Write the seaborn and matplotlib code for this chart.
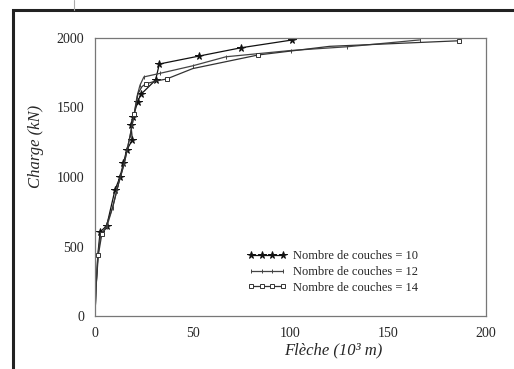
import matplotlib
matplotlib.use('Agg')
import matplotlib.pyplot as plt
from matplotlib.lines import Line2D
from matplotlib.patches import Rectangle
from matplotlib.ticker import MultipleLocator
import pandas as pd
import seaborn as sns

# Flèche (10^3 m) / Charge (kN)
x_10 = [0, 0.5, 1.5, 2.6, 6, 10.2, 12.8, 14.5, 16.2, 19.1, 18.4, 19.6, 21.8, 23.5, 31, 32.9, 53.2, 74.8, 101]
y_10 = [0, 200, 450, 604, 650, 906, 1000, 1098, 1194, 1266, 1374, 1434, 1542, 1595, 1698, 1813, 1870, 1930, 1986]

x_12 = [0, 0.5, 1.5, 3, 6, 9, 12, 15, 18, 20, 21.5, 23, 25, 33, 50, 67, 100, 129, 166]
y_12 = [0, 200, 440, 590, 640, 780, 950, 1100, 1300, 1450, 1580, 1660, 1720, 1745, 1800, 1865, 1910, 1937, 1986]

x_14 = [0, 0.5, 1.7, 3.5, 5, 9, 12, 15, 18, 20, 22, 24, 26, 31, 36.6, 50, 83.5, 120, 186]
y_14 = [0, 200, 439, 590, 620, 780, 950, 1100, 1300, 1450, 1600, 1650, 1670, 1690, 1705, 1780, 1878, 1940, 1980]

LABELS = ['Nombre de couches = 10', 'Nombre de couches = 12', 'Nombre de couches = 14']

sns.set_style('white')
plt.rcParams['font.family'] = ['Liberation Serif', 'DejaVu Serif']

fig = plt.figure(figsize=(5.14, 3.69), dpi=100)
ax = fig.add_axes([95 / 514, 1 - 316 / 369, 391 / 514, 278 / 369])

# (x, y, label, marker, markersize, markerfacecolor, line color, markevery)
series = [
    (x_10, y_10, LABELS[0], '*', 5.5, '#111111', '#111111', list(range(3, len(x_10)))),
    (x_12, y_12, LABELS[1], '|', 2.5, '#444444', '#444444', list(range(2, len(x_12)))),
    (x_14, y_14, LABELS[2], 's', 2.2, 'white', '#333333', [2, 3, 9, 12, 14, 16, 18]),
]
for xs, ys, label, marker, ms, mfc, color, every in series:
    df = pd.DataFrame({'x': xs, 'y': ys})
    sns.lineplot(data=df, x='x', y='y', sort=False, estimator=None, ax=ax,
                 color=color, lw=0.9, marker=marker, markersize=ms, markevery=every,
                 markerfacecolor=mfc, markeredgecolor=color, markeredgewidth=0.7,
                 label=label)

ax.set_xlim(0, 200)
ax.set_ylim(0, 2000)
ax.xaxis.set_major_locator(MultipleLocator(50))
ax.xaxis.set_minor_locator(MultipleLocator(5))
ax.yaxis.set_major_locator(MultipleLocator(500))
ax.yaxis.set_minor_locator(MultipleLocator(50))
ax.tick_params(which='major', direction='inout', length=6, width=0.8, color='#555555',
               labelsize=10, pad=5)
ax.tick_params(which='minor', direction='in', length=3, width=0.6, color='#777777')
for s in ax.spines.values():
    s.set_color('#777777')
    s.set_linewidth(0.9)

ax.set_xlabel('Flèche (10³ m)', fontsize=12, style='italic')
ax.set_ylabel('Charge (kN)', fontsize=12, style='italic')
ax.xaxis.set_label_coords(0.61, -0.095)
ax.yaxis.set_label_coords(-0.13, 0.61)

leg = ax.legend(loc='lower left', bbox_to_anchor=(0.36, 0.04), frameon=False, fontsize=9,
                numpoints=4, handlelength=3.2, handletextpad=0.5, labelspacing=0.3)

# scanned page frame
fig.add_artist(Rectangle((13 / 514, -0.2), 1.2, 1.2 - 10 / 369, transform=fig.transFigure,
                         fill=False, lw=2.2, ec='#222222'))
fig.add_artist(Line2D([74 / 514, 74 / 514], [1 - 10 / 369, 1], transform=fig.transFigure,
                      color='#aaaaaa', lw=0.8))

fig.savefig('out.png', dpi=100)
